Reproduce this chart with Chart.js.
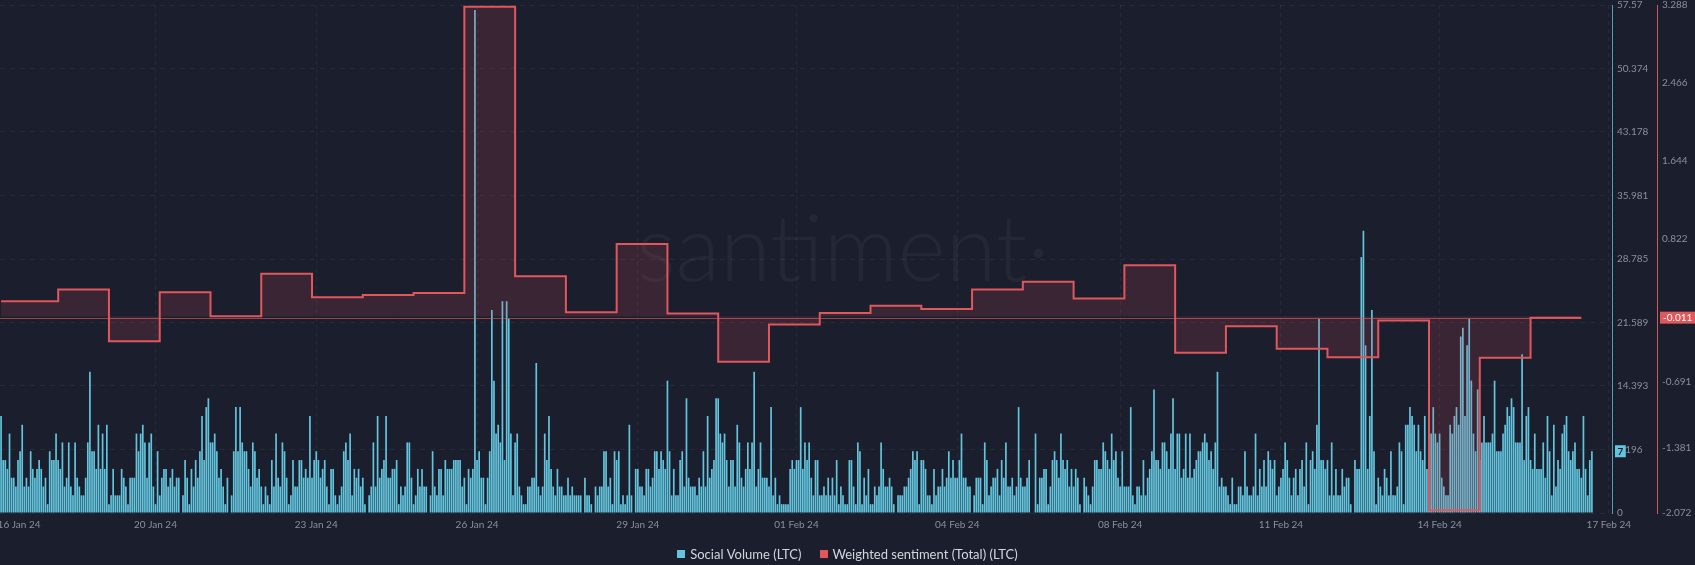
<!DOCTYPE html>
<html>
<head>
<meta charset="utf-8">
<script src="https://cdn.jsdelivr.net/npm/chart.js@4.4.1/dist/chart.umd.min.js"></script>
<style>
  html, body { margin: 0; padding: 0; background: #1b1e2d; }
</style>
</head>
<body>
<canvas id="chart" width="1695" height="565"></canvas>
<script>
// hourly social volume
const volume = [
  11,6,6,5,9,4,4,3,6,7, 10,3,4,3,7,5,4,5,6,5, 3,4,1,7,6,6,9,6,5,8, 3,4,8,3,2,8,4,3,2,2,
  4,8,16,7,7,5,10,5,9,5, 10,1,2,5,2,2,2,5,4,3, 1,4,4,4,9,7,9,10,8,4, 8,9,3,1,7,2,4,5,5,3,
  4,5,3,4,4,0,2,6,4,1, 5,3,6,4,7,11,6,12,13,8, 8,9,7,4,5,3,1,4,0,2, 7,12,7,12,8,7,7,5,3,8,
  7,4,5,3,1,3,
  2,1,6,3,9,4,3,8,7,4, 1,2,6,3,3,6,6,4,5,4, 11,4,6,7,6,4,5,6,3,1, 5,5,2,1,2,3,7,8,6,9,
  2,5,4,5,3,4,1,0,2,3, 8,3,11,4,5,6,11,4,4,5, 5,6,1,3,2,3,8,8,4,1, 2,5,3,5,3,3,0,2,7,
  3,2,5,5,2,6,5,5,5,6, 6,6,6,3,4,1,5,4,5, 57,6,7,4,4,1,4,7,23,15, 9,10,8,24,6,24,22,9,2,8,
  9,3,2,1,1,3,3,4,
  4,17,3,2,3,9,6,11,5,3, 2,5,3,3,2,2,4,2,3,2, 2,2,2,0,4,2,2,1,0,3, 2,3,3,7,7,3,4,1,7,6,
  7,1,2,1,2,10,2,0,5,5, 3,3,2,5,5,3,4,7,7,5, 7,6,5,15,7,2,5,2,2,6, 7,3,13,4,3,3,3,2,4,3,
  7,3,11,4,5,6,13,13,9,8, 9,6,3,6,6,3,10,8,4,3, 5,8,5,8,16,3,5,8,4,4, 4,3,12,2,4,1,2,1,1,1,
  1,5,6,5,6,6,
  12,5,8,6,8,4,2,6,6,2, 2,3,2,4,2,4,2,6,1,3, 2,1,1,6,6,3,1,8,7,1, 4,2,5,1,1,3,2,3,8,5,
  3,3,4,3,1,0,2,2,2,3, 3,4,5,7,6,7,1,6,6,5, 2,2,1,5,2,3,3,5,3,4, 7,4,6,4,4,6,9,4,4,3,
  3,0,2,4,4,4,1,8,6,2, 3,4,4,5,2,6,4,8,3,3, 4,2,3,12,4,3,3,4,6,0, 0,9,1,4,4,5,5,1,3,6,
  7,6,4,9,6,5,
  6,3,5,3,5,4,1,0,4, 3,2,1,3,6,6,5,5,8, 7,6,5,9,6,7,4,3,7, 3,3,3,12,2,1,3,3,2,6,
  2,4,5,7,14,6,6,5,8,8, 7,5,9,13,5,9,9,4,5,9, 4,9,4,5,6,7,7,8,9,8, 6,7,5,8,16,3,4,3,3,2,
  1,4,1,1,3,3,2,7,3,2, 2,3,9,2,5,3,6,3,7,6, 5,6,2,3,4,5,8,6,4,2, 4,5,2,5,6,3,8,1,6,7,
  5,10,22,6,6,5,
  6,2,8,2,5,2,2,5,3,4, 4,1,0,6,5,5,29,32,19,5, 11,23,7,1,4,3,2,5,4,2, 7,2,2,3,8,7,1,10,10,12,
  11,10,7,10,7,6,11,5,2,9, 12,9,8,9,4,3,2,2,10,9, 11,12,10,20,21,11,19,22,15,9, 7,14,6,8,11,8,8,8,9,15,
  7,7,7,9,10,12,11,13,12,8, 8,8,18,6,11,12,6,5,9,5, 5,5,8,4,11,7,2,10,3,6, 5,9,10,11,7,6,7,8,5,5,
  4,11,5,2,6,7
];

// daily weighted sentiment: hour where each day starts, and its value
const sentimentHours = [0,27,51,75,99,123,147,171,195,219,243,267,291,315,339,363,
  387,411,435,459,483,507,531,555,579,603,627,651,675,699,723,747];
const sentimentValues = [0.162,0.285,-0.26,0.257,0.004,0.453,0.204,0.229,0.25,3.27,0.425,0.046,
  0.766,0.032,-0.477,-0.084,0.039,0.116,0.081,0.285,0.369,0.19,0.541,-0.382,-0.102,-0.34,
  -0.428,-0.042,-2.044,-0.435,-0.011,-0.011];

const xTickHours = [8.5,73,149,225,301,376,452,529,605,680,760];
const xTickLabels = ['16 Jan 24','20 Jan 24','23 Jan 24','26 Jan 24','29 Jan 24','01 Feb 24',
  '04 Feb 24','08 Feb 24','11 Feb 24','14 Feb 24','17 Feb 24'];
const volumeTicks = [57.57,50.374,43.178,35.981,28.785,21.589,14.393,7.196,0];
const sentimentTicks = [3.288,2.466,1.644,0.822,0,-0.691,-1.381,-2.072];

const seriesNames = ['Social Volume (LTC)', 'Weighted sentiment (Total) (LTC)'];
const seriesColors = ['#63c5dd', '#e0575c'];

const bg = '#1b1e2d';
const tickColor = '#8a8f9e';
const font = 'Lato';

const hours = volume.map((v, i) => i);

const santimentPlugin = {
  id: 'santiment',
  beforeDraw(chart) {
    const c = chart.ctx;
    c.save();
    c.fillStyle = bg;
    c.fillRect(0, 0, chart.width, chart.height);
    c.restore();
  },
  beforeDatasetsDraw(chart) {
    const c = chart.ctx;
    const a = chart.chartArea;
    c.save();
    c.font = '300 92px Lato';
    c.fillStyle = 'rgba(255,255,255,0.045)';
    c.textAlign = 'center';
    c.textBaseline = 'alphabetic';
    c.fillText('santiment\u00b7', (a.left + a.right) / 2 + 37, 281);
    c.restore();
  },
  afterDatasetsDraw(chart) {
    const c = chart.ctx;
    const a = chart.chartArea;
    const y = chart.scales.y1.getPixelForValue(sentimentValues[sentimentValues.length - 1]);
    const xEnd = chart.scales.x.getPixelForValue(sentimentHours[sentimentHours.length - 1]);
    c.save();
    c.strokeStyle = 'rgba(224,87,92,0.65)';
    c.lineWidth = 1;
    c.beginPath();
    c.moveTo(a.left, Math.round(y) + 0.5);
    c.lineTo(xEnd, Math.round(y) + 0.5);
    c.stroke();
    c.restore();
  },
  afterDraw(chart) {
    const c = chart.ctx;
    const ys = chart.scales.y, ys1 = chart.scales.y1;
    const lastV = volume[volume.length - 1];
    const lastS = sentimentValues[sentimentValues.length - 1];
    c.save();
    c.font = '10px Lato';
    c.textBaseline = 'middle';
    c.textAlign = 'center';
    // social volume badge
    let y = ys.getPixelForValue(lastV);
    let txt = String(lastV);
    let w = Math.max(c.measureText(txt).width + 5, 10);
    c.fillStyle = seriesColors[0];
    c.fillRect(ys.left + 3, y - 6, w, 12);
    c.fillStyle = bg;
    c.font = 'bold 10px Lato';
    c.fillText(txt, ys.left + 3 + w / 2, y + 0.5);
    // sentiment badge
    c.font = '10px Lato';
    y = ys1.getPixelForValue(lastS);
    txt = String(lastS);
    w = c.measureText(txt).width + 6;
    c.fillStyle = seriesColors[1];
    c.fillRect(ys1.left + 3, y - 6, w, 12);
    c.fillStyle = '#ffffff';
    c.fillText(txt, ys1.left + 3 + w / 2, y + 0.5);

    // legend row under the axis
    c.font = '13px Lato';
    c.textAlign = 'left';
    const box = 8, gap = 5, itemGap = 18;
    const widths = seriesNames.map(n => box + gap + c.measureText(n).width);
    const total = widths.reduce((s, v) => s + v, 0) + itemGap * (widths.length - 1);
    let x = (chart.width - total) / 2;
    const ly = chart.chartArea.bottom + 41;
    seriesNames.forEach((n, i) => {
      c.fillStyle = seriesColors[i];
      c.fillRect(Math.round(x), Math.round(ly - box / 2), box, box);
      c.fillStyle = '#d3d6de';
      c.fillText(n, x + box + gap, ly + 0.5);
      x += widths[i] + itemGap;
    });
    c.restore();
  }
};

new Chart(document.getElementById('chart'), {
  type: 'bar',
  data: {
    labels: hours,
    datasets: [
      {
        type: 'bar',
        label: seriesNames[0],
        data: volume,
        yAxisID: 'y',
        backgroundColor: seriesColors[0],
        barPercentage: 0.8,
        categoryPercentage: 1,
        order: 2
      },
      {
        type: 'line',
        label: seriesNames[1],
        data: sentimentHours.map((h, i) => ({x: h, y: sentimentValues[i]})),
        yAxisID: 'y1',
        borderColor: seriesColors[1],
        borderWidth: 2,
        backgroundColor: 'rgba(215,80,92,0.17)',
        fill: {value: 0},
        stepped: true,
        pointRadius: 0,
        order: 1
      }
    ]
  },
  options: {
    responsive: false,
    animation: false,
    layout: {padding: {top: 5, bottom: 0, left: 0, right: 0}},
    scales: {
      x: {
        type: 'linear',
        min: -0.5,
        max: 761.5,
        offset: false,
        grid: {
          offset: false,
          drawTicks: false,
          color: (c) => c.index === 0 ? 'rgba(0,0,0,0)' : 'rgba(255,255,255,0.05)'
        },
        border: {display: false, dash: [4, 4]},
        ticks: {
          color: tickColor,
          font: {family: font, size: 10},
          padding: 6,
          maxRotation: 0,
          autoSkip: false,
          callback: (v, i) => xTickLabels[i]
        },
        afterBuildTicks: (s) => { s.ticks = xTickHours.map(v => ({value: v})); },
        afterFit: (s) => { s.height = 52; s.paddingLeft = 0; s.paddingRight = 0; }
      },
      y: {
        type: 'linear',
        position: 'right',
        weight: 0,
        min: 0,
        max: 57.57,
        grid: {drawTicks: false, color: 'rgba(255,255,255,0.06)'},
        border: {display: true, color: '#4f9fb6', width: 1, dash: [5, 5]},
        ticks: {
          color: tickColor,
          font: {family: font, size: 10},
          padding: 5,
          callback: (v) => String(v)
        },
        afterBuildTicks: (s) => { s.ticks = volumeTicks.map(v => ({value: v})); },
        afterFit: (s) => { s.width = 45; s.paddingTop = 0; s.paddingBottom = 0; }
      },
      y1: {
        type: 'linear',
        position: 'right',
        weight: 1,
        min: -2.072,
        max: 3.288,
        grid: {display: false, drawTicks: false},
        border: {display: true, color: '#d4575c', width: 1},
        ticks: {
          color: tickColor,
          font: {family: font, size: 10},
          padding: 5,
          callback: (v) => String(v)
        },
        afterBuildTicks: (s) => { s.ticks = sentimentTicks.map(v => ({value: v})); },
        afterFit: (s) => { s.width = 38; s.paddingTop = 0; s.paddingBottom = 0; }
      }
    },
    plugins: {
      tooltip: {enabled: false},
      legend: {display: false}
    }
  },
  plugins: [santimentPlugin]
});
</script>
</body>
</html>
